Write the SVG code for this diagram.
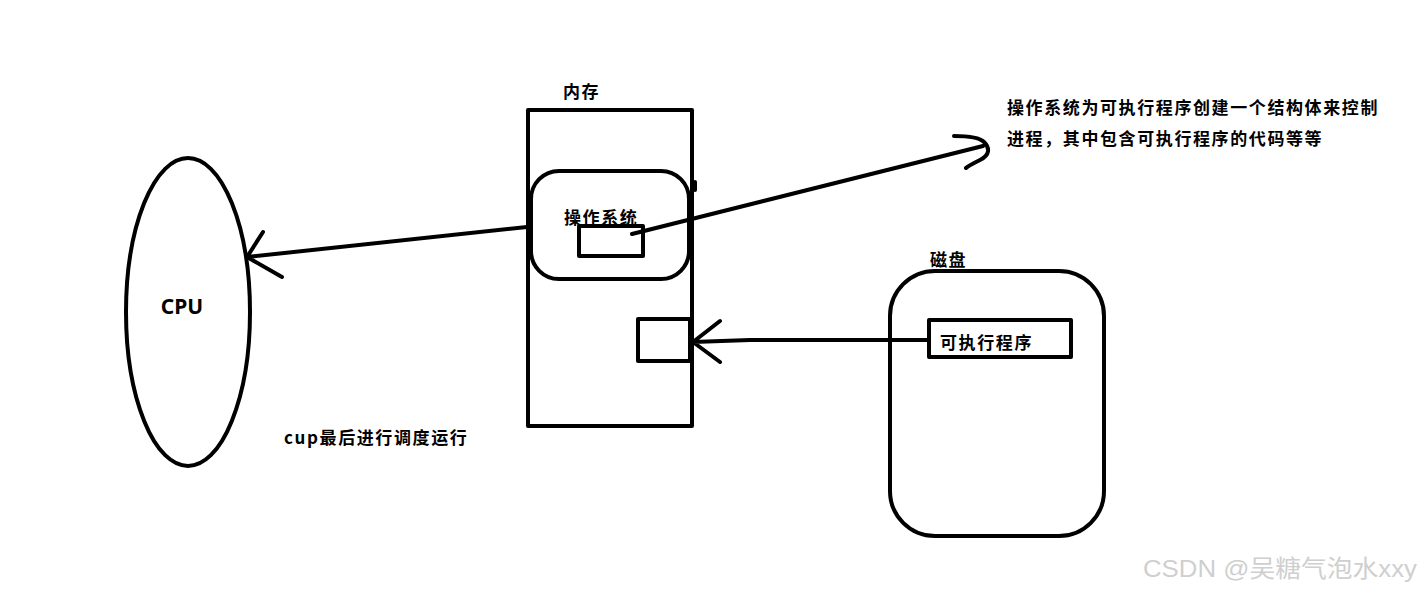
<svg xmlns="http://www.w3.org/2000/svg" width="1421" height="594" viewBox="0 0 1421 594">
<style>
.s{fill:none;stroke:#000;stroke-width:4;stroke-linecap:round;stroke-linejoin:round}
.t{font-family:"Microsoft YaHei","Noto Sans CJK SC",sans-serif;font-weight:bold;font-size:17px;letter-spacing:1.6px;fill:#000;dominant-baseline:central}
.w{font-family:"Liberation Sans","Noto Sans CJK SC",sans-serif;font-size:24px;fill:#cfcfcf;dominant-baseline:central}
</style>
<rect width="1421" height="594" fill="#fff"/>
<g id="cpu">
<ellipse class="s" cx="188" cy="312" rx="62" ry="154"/>
<text x="182" y="306" text-anchor="middle" style="font-family:'Noto Sans','Liberation Sans',sans-serif;font-weight:bold;font-size:21px;dominant-baseline:central">CPU</text>
</g>
<g id="memory">
<text class="t" x="563" y="90">内存</text>
<rect class="s" x="528" y="110" width="164" height="316" stroke-linecap="butt" stroke-linejoin="miter"/>
</g>
<g id="os">
<rect class="s" x="531" y="171" width="158" height="108" rx="28"/>
<line class="s" x1="695" y1="182" x2="695" y2="190"/>
<text class="t" x="564" y="216">操作系统</text>
<rect class="s" x="579" y="226" width="64" height="30" stroke-linecap="butt" stroke-linejoin="miter"/>
</g>
<g id="mem-slot">
<rect class="s" x="638" y="319" width="52" height="42" stroke-linecap="butt" stroke-linejoin="miter"/>
</g>
<g id="disk">
<text class="t" x="930" y="258">磁盘</text>
<rect class="s" x="890" y="271" width="214" height="265" rx="45"/>
</g>
<g id="program">
<rect class="s" x="929" y="320" width="142" height="37" stroke-linecap="butt" stroke-linejoin="miter"/>
<text class="t" x="940" y="341">可执行程序</text>
</g>
<g id="note">
<text class="t" x="1007" y="106">操作系统为可执行程序创建一个结构体来控制</text>
<text class="t" x="1007" y="137">进程，其中包含可执行程序的代码等等</text>
</g>
<g id="schedule">
<text class="t" x="284" y="436">cup最后进行调度运行</text>
</g>
<g id="connectors">
<path class="s" d="M527 227 L247 257 M263 232 L247 257 L282 277"/>
<path class="s" d="M927 340 L750 340 L693 342 M720 321 L693 342 L720 362"/>
<path class="s" d="M632 234 L983 146 M954 136 C970 136 980 138 984 142 C990 148 990 155 980 160 C972 164 968 166 966 168"/>
</g>
<g id="watermark">
<text class="w" x="1143" y="568" textLength="274" lengthAdjust="spacingAndGlyphs">CSDN @吴糖气泡水xxy</text>
</g>
</svg>
